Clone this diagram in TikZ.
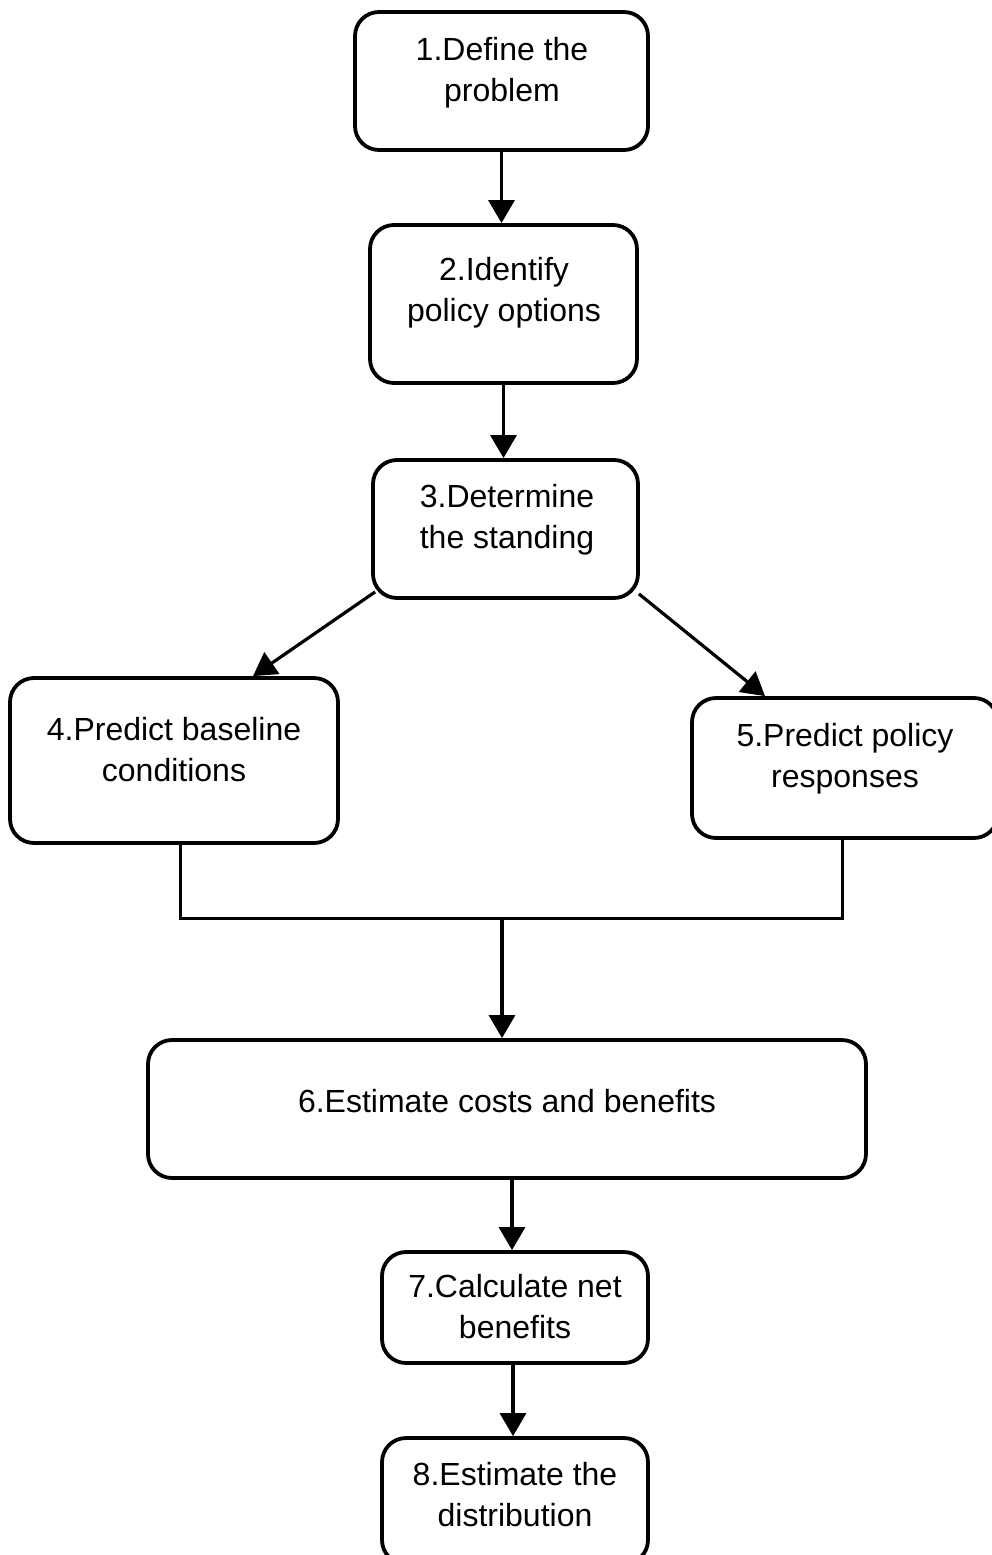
\documentclass[tikz,border=0pt]{standalone}
\usepackage{fontspec}
\setmainfont{Liberation Sans}
\usetikzlibrary{arrows.meta}
\begin{document}
\begin{tikzpicture}[x=1pt,y=-1pt,
  stepbox/.style={draw=black, line width=3.8pt, rounded corners=24pt, fill=white, inner sep=0pt},
  steptext/.style={align=center, font=\fontsize{32}{41}\selectfont, inner sep=0pt},
  flow/.style={line width=3.2pt, -{Triangle[length=23pt,width=26pt]}},
  wire/.style={line width=3pt}]
\useasboundingbox (0,0) rectangle (992,1555);

% step boxes
\node[stepbox, minimum width=293pt, minimum height=138pt] (b1) at (501.5,81) {};
\node[stepbox, minimum width=267pt, minimum height=158pt] (b2) at (503.5,304) {};
\node[stepbox, minimum width=265pt, minimum height=138pt] (b3) at (505.5,529) {};
\node[stepbox, minimum width=328pt, minimum height=165pt] (b4) at (174,760.5) {};
\node[stepbox, minimum width=306pt, minimum height=140pt] (b5) at (845,768) {};
\node[stepbox, minimum width=718pt, minimum height=138pt] (b6) at (507,1109) {};
\node[stepbox, minimum width=266pt, minimum height=111pt] (b7) at (515,1307.5) {};
\node[stepbox, minimum width=266pt, minimum height=126pt] (b8) at (515,1501) {};

% step labels
\node[steptext] (t1) at (502,73) {1.Define the\\problem};
\node[steptext] (t2) at (504,293) {2.Identify\\policy options};
\node[steptext] (t3) at (507,520) {3.Determine\\the standing};
\node[steptext] (t4) at (174,750) {4.Predict baseline\\conditions};
\node[steptext] (t5) at (845,759) {5.Predict policy\\responses};
\node[steptext] (t6) at (507,1101) {6.Estimate costs and benefits};
\node[steptext] (t7) at (515,1307) {7.Calculate net\\benefits};
\node[steptext] (t8) at (515,1495) {8.Estimate the\\distribution};

% flow arrows
\draw[flow] (b1.south) -- (b1.south |- b2.north);
\draw[flow] (b2.south) -- (b2.south |- b3.north);
\draw[flow] ([shift={(4,-8)}]b3.south west) -- ([xshift=79pt]b4.north);
\draw[flow] ([shift={(-1,-6)}]b3.south east) -- ([xshift=-80pt]b5.north);

% junction of steps 4 and 5 into step 6
\coordinate (jl) at ([xshift=6pt]b4.south |- 0,918);
\coordinate (jr) at ([xshift=-3pt]b5.south |- 0,918);
\coordinate (jm) at (502,918);
\draw[wire] ([xshift=6pt]b4.south) -- (jl) -- (jr) -- ([xshift=-3pt]b5.south);
\draw[flow] (jm) -- (jm |- b6.north);

\draw[flow] ([xshift=5pt]b6.south) -- ([xshift=5pt]b6.south |- b7.north);
\draw[flow] ([xshift=-2pt]b7.south) -- ([xshift=-2pt]b7.south |- b8.north);
\end{tikzpicture}
\end{document}
